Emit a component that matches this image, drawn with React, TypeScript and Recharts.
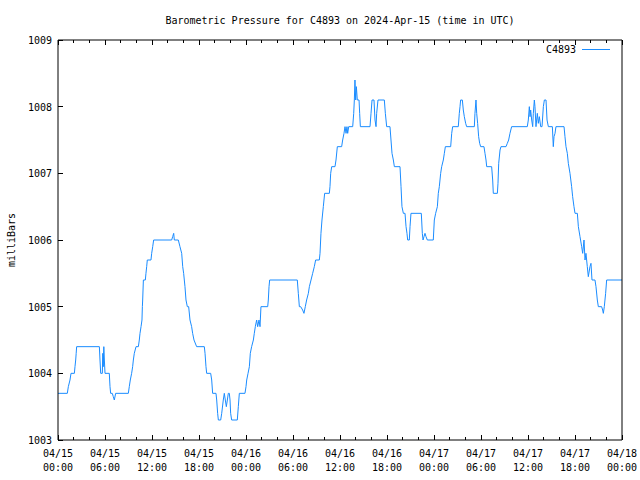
import { LineChart, Line, XAxis, YAxis } from "recharts";

// hours since 04/15 00:00 UTC, and pressure in millibars
const hours = [
  0.0, 1.19, 1.32, 1.53, 1.66, 2.09, 2.17, 2.26, 2.32, 2.38, 5.28, 5.36, 5.45, 5.66, 5.72, 5.78,
  5.85, 5.92, 6.0, 6.55, 6.64, 6.72, 6.93, 7.06, 7.19, 7.36, 8.98, 9.1, 9.23, 9.4, 9.53, 9.62,
  9.74, 9.96, 10.26, 10.38, 10.47, 10.6, 10.72, 10.77, 10.81, 10.9, 11.15, 11.23, 11.32, 11.4,
  11.87, 11.96, 12.09, 12.21, 14.51, 14.64, 14.77, 14.85, 15.36, 15.57, 15.79, 15.92, 16.04,
  16.21, 16.34, 16.51, 16.68, 16.85, 17.06, 17.19, 17.36, 17.7, 18.68, 18.77, 18.89, 18.98,
  19.49, 19.62, 19.74, 20.17, 20.26, 20.38, 20.47, 20.77, 20.9, 21.1, 21.23, 21.36, 21.49,
  21.62, 21.74, 21.87, 21.96, 22.04, 22.17, 22.89, 23.02, 23.15, 23.87, 24.0, 24.09, 24.26,
  24.43, 24.55, 24.72, 24.94, 25.06, 25.19, 25.36, 25.49, 25.66, 25.79, 25.91, 26.77, 26.85,
  26.94, 27.02, 30.55, 30.68, 30.81, 30.98, 31.23, 31.4, 31.57, 31.74, 31.96, 32.09, 32.3,
  32.51, 32.72, 32.89, 33.36, 33.45, 33.57, 33.7, 33.87, 34.04, 34.64, 34.72, 34.81, 34.94,
  35.36, 35.49, 35.66, 36.21, 36.34, 36.51, 36.64, 36.77, 36.89, 36.98, 37.11, 37.62, 37.75,
  37.83, 37.91, 38.0, 38.09, 38.21, 38.43, 38.51, 38.6, 39.83, 39.96, 40.09, 40.34, 40.47,
  40.6, 40.68, 40.85, 41.66, 41.79, 41.96, 42.38, 42.51, 42.64, 42.81, 42.94, 43.66, 43.79,
  43.91, 44.09, 44.3, 44.43, 44.55, 44.64, 44.85, 44.94, 45.06, 46.38, 46.51, 46.6, 46.72,
  46.85, 46.98, 47.15, 47.91, 48.04, 48.21, 48.43, 48.55, 48.68, 48.85, 48.98, 49.19, 49.32,
  49.45, 50.13, 50.26, 50.38, 51.1, 51.23, 51.32, 51.4, 51.62, 51.74, 51.87, 52.04, 52.17,
  53.15, 53.23, 53.36, 53.45, 53.57, 53.7, 53.83, 53.96, 54.38, 54.51, 54.64, 54.73, 55.36,
  55.49, 55.57, 56.09, 56.17, 56.26, 56.43, 56.55, 57.19, 57.36, 57.53, 57.7, 57.91, 59.91,
  60.04, 60.17, 60.26, 60.34, 60.47, 60.6, 60.68, 60.81, 60.89, 61.02, 61.19, 61.32, 61.45,
  61.62, 61.79, 61.96, 62.09, 62.3, 62.43, 62.6, 63.11, 63.23, 63.32, 63.45, 63.57, 64.6,
  64.72, 64.85, 65.02, 65.15, 65.36, 65.57, 65.7, 65.87, 66.0, 66.3, 66.43, 66.64, 66.85,
  66.98, 67.15, 67.28, 67.4, 67.57, 67.7, 67.91, 68.04, 68.17, 68.55, 68.68, 68.85, 68.98,
  69.4, 69.53, 69.62, 69.74, 69.91, 70.04, 71.87, 72.0,
];

const pressure = [
  1003.7, 1003.7, 1003.8, 1003.9, 1004.0, 1004.0, 1004.1, 1004.2, 1004.3, 1004.4, 1004.4, 1004.2,
  1004.0, 1004.0, 1004.3, 1004.1, 1004.4, 1004.2, 1004.0, 1004.0, 1003.8, 1003.7, 1003.7,
  1003.65, 1003.6, 1003.7, 1003.7, 1003.8, 1003.9, 1004.0, 1004.1, 1004.2, 1004.3, 1004.4,
  1004.4, 1004.5, 1004.6, 1004.7, 1004.8, 1005.0, 1005.1, 1005.4, 1005.4, 1005.5, 1005.6,
  1005.7, 1005.7, 1005.8, 1005.9, 1006.0, 1006.0, 1006.05, 1006.1, 1006.0, 1006.0, 1005.9,
  1005.8, 1005.6, 1005.5, 1005.3, 1005.1, 1005.0, 1005.0, 1004.8, 1004.7, 1004.6, 1004.5,
  1004.4, 1004.4, 1004.3, 1004.1, 1004.0, 1004.0, 1003.9, 1003.7, 1003.7, 1003.6, 1003.4,
  1003.3, 1003.3, 1003.4, 1003.6, 1003.7, 1003.6, 1003.5, 1003.6, 1003.7, 1003.7, 1003.6,
  1003.4, 1003.3, 1003.3, 1003.5, 1003.7, 1003.7, 1003.8, 1003.9, 1004.0, 1004.1, 1004.3,
  1004.4, 1004.5, 1004.6, 1004.7, 1004.8, 1004.7, 1004.8, 1004.7, 1005.0, 1005.0, 1005.1,
  1005.3, 1005.4, 1005.4, 1005.2, 1005.0, 1005.0, 1004.95, 1004.9, 1005.0, 1005.1, 1005.2,
  1005.3, 1005.4, 1005.5, 1005.6, 1005.7, 1005.7, 1005.8, 1006.1, 1006.3, 1006.5, 1006.7,
  1006.7, 1006.8, 1007.0, 1007.1, 1007.1, 1007.2, 1007.4, 1007.4, 1007.5, 1007.6, 1007.7,
  1007.6, 1007.7, 1007.6, 1007.7, 1007.7, 1007.9, 1008.1, 1008.4, 1008.1, 1008.3, 1008.1,
  1008.1, 1007.9, 1007.7, 1007.7, 1007.9, 1008.1, 1008.1, 1007.8, 1007.7, 1007.9, 1008.1,
  1008.1, 1007.9, 1007.7, 1007.7, 1007.5, 1007.3, 1007.2, 1007.1, 1007.1, 1006.8, 1006.5,
  1006.4, 1006.4, 1006.2, 1006.1, 1006.0, 1006.0, 1006.2, 1006.4, 1006.4, 1006.1, 1006.0,
  1006.05, 1006.1, 1006.05, 1006.0, 1006.0, 1006.3, 1006.4, 1006.5, 1006.7, 1006.8, 1007.0,
  1007.1, 1007.2, 1007.3, 1007.4, 1007.4, 1007.6, 1007.7, 1007.7, 1007.9, 1008.0, 1008.1,
  1008.1, 1007.95, 1007.85, 1007.75, 1007.7, 1007.7, 1007.9, 1008.1, 1007.9, 1007.75,
  1007.55, 1007.45, 1007.4, 1007.4, 1007.3, 1007.2, 1007.1, 1007.1, 1006.9, 1006.7, 1006.7,
  1006.85, 1007.15, 1007.35, 1007.4, 1007.4, 1007.45, 1007.5, 1007.6, 1007.7, 1007.7, 1007.8,
  1008.0, 1007.85, 1007.95, 1007.8, 1007.7, 1007.9, 1008.1, 1008.0, 1007.7, 1007.9, 1007.75,
  1007.85, 1007.7, 1007.7, 1008.0, 1008.1, 1008.1, 1007.8, 1007.7, 1007.7, 1007.4, 1007.55,
  1007.6, 1007.7, 1007.7, 1007.55, 1007.4, 1007.3, 1007.15, 1007.0, 1006.8, 1006.65, 1006.5,
  1006.4, 1006.4, 1006.2, 1006.05, 1005.9, 1005.8, 1006.0, 1005.7, 1005.8, 1005.6, 1005.45,
  1005.6, 1005.65, 1005.4, 1005.4, 1005.3, 1005.1, 1005.0, 1005.0, 1004.95, 1004.9, 1005.0,
  1005.2, 1005.4, 1005.4, 1005.4,
];

const minorTicks = [
  0, 2, 4, 6, 8, 10, 12, 14, 16, 18, 20, 22, 24, 26, 28, 30, 32, 34, 36, 38, 40, 42, 44, 46,
  48, 50, 52, 54, 56, 58, 60, 62, 64, 66, 68, 70, 72,
];
const majorTicks = [0, 6, 12, 18, 24, 30, 36, 42, 48, 54, 60, 66, 72];
const dayLabels = [
  "04/15", "04/15", "04/15", "04/15", "04/16", "04/16", "04/16", "04/16",
  "04/17", "04/17", "04/17", "04/17", "04/18",
];
const timeLabels = [
  "00:00", "06:00", "12:00", "18:00", "00:00", "06:00", "12:00", "18:00",
  "00:00", "06:00", "12:00", "18:00", "00:00",
];
const yTicks = [1003, 1004, 1005, 1006, 1007, 1008, 1009];

const data = hours.map((h, i) => ({ h, p: pressure[i] }));

const LEFT = 58;
const RIGHT = 622;
const TOP = 40;
const BOTTOM = 440;
const FONT = "'DejaVu Sans Mono', 'Liberation Mono', monospace";
const LINE_COLOR = "#1a8cff";

function BottomTick(props: any) {
  const { x, payload } = props;
  const i = majorTicks.indexOf(payload.value);
  const major = i >= 0;
  return (
    <g>
      <line x1={x} x2={x} y1={BOTTOM} y2={BOTTOM - (major ? 5 : 3)} stroke="#000" shapeRendering="crispEdges" />
      {major && (
        <text x={x} y={BOTTOM + 17} textAnchor="middle" fontFamily={FONT} fontSize={10} fill="#000">
          {dayLabels[i]}
        </text>
      )}
      {major && (
        <text x={x} y={BOTTOM + 31} textAnchor="middle" fontFamily={FONT} fontSize={10} fill="#000">
          {timeLabels[i]}
        </text>
      )}
    </g>
  );
}

function TopTick(props: any) {
  const { x, payload } = props;
  const major = majorTicks.includes(payload.value);
  return <line x1={x} x2={x} y1={TOP} y2={TOP + (major ? 5 : 3)} stroke="#000" shapeRendering="crispEdges" />;
}

function LeftTick(props: any) {
  const { y, payload } = props;
  return (
    <g>
      <line x1={LEFT} x2={LEFT + 5} y1={y} y2={y} stroke="#000" shapeRendering="crispEdges" />
      <text x={LEFT - 6} y={y + 4} textAnchor="end" fontFamily={FONT} fontSize={10} fill="#000">
        {payload.value}
      </text>
    </g>
  );
}

function RightTick(props: any) {
  const { y } = props;
  return <line x1={RIGHT} x2={RIGHT - 5} y1={y} y2={y} stroke="#000" shapeRendering="crispEdges" />;
}

export default function App() {
  return (
    <div style={{ position: "absolute", left: 0, top: 0, width: 640, height: 480, background: "#fff" }}>
      <LineChart width={640} height={480} data={data} margin={{ top: 10, right: 0, bottom: 0, left: 0 }}>
        <XAxis
          dataKey="h"
          type="number"
          domain={[0, 72]}
          ticks={minorTicks}
          interval={0}
          height={40}
          tickLine={false}
          axisLine={{ stroke: "#000" }}
          tick={<BottomTick />}
        />
        <XAxis
          xAxisId="top"
          orientation="top"
          dataKey="h"
          type="number"
          domain={[0, 72]}
          ticks={minorTicks}
          interval={0}
          height={30}
          tickLine={false}
          axisLine={{ stroke: "#000" }}
          tick={<TopTick />}
        />
        <YAxis
          type="number"
          domain={[1003, 1009]}
          ticks={yTicks}
          interval={0}
          width={58}
          tickLine={false}
          axisLine={{ stroke: "#000" }}
          tick={<LeftTick />}
        />
        <YAxis
          yAxisId="right"
          orientation="right"
          type="number"
          domain={[1003, 1009]}
          ticks={yTicks}
          interval={0}
          width={18}
          tickLine={false}
          axisLine={{ stroke: "#000" }}
          tick={<RightTick />}
        />
        <Line
          dataKey="p"
          type="linear"
          stroke={LINE_COLOR}
          strokeWidth={1}
          dot={false}
          activeDot={false}
          isAnimationActive={false}
        />
      </LineChart>
      <svg
        width={640}
        height={480}
        style={{ position: "absolute", left: 0, top: 0, pointerEvents: "none" }}
      >
        <text x={340} y={24} textAnchor="middle" fontFamily={FONT} fontSize={10} fill="#000">
          Barometric Pressure for C4893 on 2024-Apr-15 (time in UTC)
        </text>
        <text
          x={15}
          y={240}
          textAnchor="middle"
          fontFamily={FONT}
          fontSize={10}
          fill="#000"
          transform="rotate(-90 15 240)"
        >
          milliBars
        </text>
        <text x={576} y={53} textAnchor="end" fontFamily={FONT} fontSize={10} fill="#000">
          C4893
        </text>
        <line x1={582} x2={610} y1={49} y2={49} stroke={LINE_COLOR} strokeWidth={1} shapeRendering="crispEdges" />
      </svg>
    </div>
  );
}
